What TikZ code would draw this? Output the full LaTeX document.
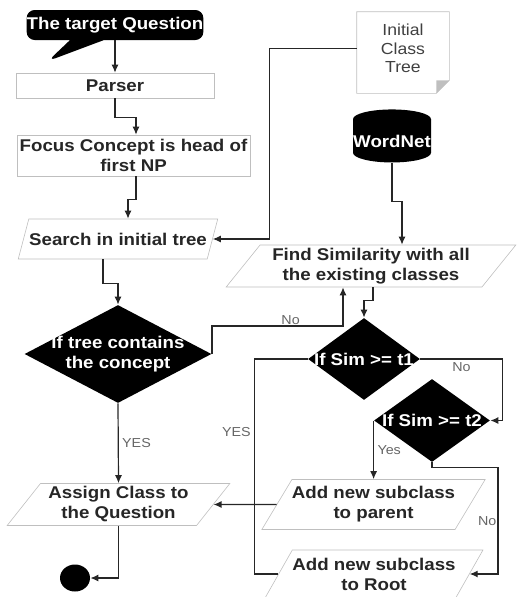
\documentclass[tikz,border=0pt]{standalone}
\usepackage{fontspec}
\setmainfont[FakeStretch=1.1]{Liberation Sans}
\usetikzlibrary{shapes.geometric,shapes.callouts,arrows.meta}

\begin{document}
\begin{tikzpicture}[x=1pt, y=-1pt, thick, >={Latex[length=8pt,width=7pt]},
    box/.style={draw=black!25, line width=0.6pt, font=\fontsize{17}{20}\selectfont\bfseries, text=black!85, align=center, inner sep=0pt},
    io/.style={box, trapezium, trapezium left angle=50, trapezium right angle=130, trapezium stretches=true},
    dec/.style={diamond, fill=black, inner sep=0pt},
    dtext/.style={text=white, font=\fontsize{17}{20}\selectfont\bfseries, align=center},
    lab/.style={text=black!60, font=\fontsize{13}{15}\selectfont},
    line/.style={draw=black!85, line width=1.2pt}]

    \useasboundingbox (0,0) rectangle (517,597);

    \node[rectangle callout, fill=black, rounded corners=8pt, callout absolute pointer={(48,61)}, callout pointer width=34pt, minimum width=176pt, minimum height=30pt, inner sep=0pt, text=white, font=\fontsize{17}{20}\selectfont\bfseries] at (115,25) (Q) {The target Question};
    \node[box, minimum width=198pt, minimum height=25pt] at (115,85.5) (P) {Parser};
    \node[box, minimum width=233pt, minimum height=41pt] at (133.5,155.5) (F) {Focus Concept is head of\\first NP};
    \node[io, minimum width=200pt, minimum height=40pt] at (118,239) (S) {Search in initial tree};
    \node[box, draw=none, text=black!75, font=\fontsize{16}{18.5}\selectfont, minimum width=92pt, minimum height=73pt] at (403,48.5) (T) {Initial\\Class\\Tree};
    \node[cylinder, shape border rotate=90, aspect=0.25, fill=black, minimum width=78pt, minimum height=53pt, inner sep=0pt, text=white, font=\fontsize{17}{20}\selectfont\bfseries] at (392,141) (W) {WordNet};
    \node[io, minimum width=290pt, minimum height=42pt] at (371,266) (FS) {Find Similarity with all\\the existing classes};

    \node[dec, minimum width=187pt, minimum height=98pt, label={[dtext]center:If tree contains\\the concept}] at (118,354) (C) {};
    \node[dec, minimum width=112pt, minimum height=82pt, label={[dtext]center:If Sim >= t1}] at (364,359) (D1) {};
    \node[dec, minimum width=116pt, minimum height=83pt, label={[dtext]center:If Sim >= t2}] at (432,420.5) (D2) {};

    \node[io, minimum width=223pt, minimum height=42pt] at (118.5,504.5) (A) {Assign Class to\\the Question};
    \node[io, minimum width=217pt, minimum height=50pt] at (373.5,504.5) (AP) {Add new subclass\\to parent};
    \node[io, minimum width=218pt, minimum height=48pt] at (374,574) (AR) {Add new subclass\\to Root};
    \node[ellipse, fill=black, minimum width=30pt, minimum height=27pt] at (75,578) (E) {};

    % folded corner of the tree file
    \draw[draw=black!25, line width=0.6pt] (T.north west) -- (T.north east) -- ([yshift=5pt]T.south east) -- ([xshift=-13pt, yshift=-8pt]T.south east) -- ([yshift=-8pt]T.south west) -- cycle;
    \fill[black!25] ([yshift=5pt]T.south east) -- ([xshift=-13pt, yshift=-8pt]T.south east) -- ([xshift=-13pt, yshift=5pt]T.south east) -- cycle;

    \draw[line, ->] (Q.south) -- (P.north);
    \draw[line, ->] (P.south) -- ++(0,19) -| ([xshift=2.5pt]F.north);
    \draw[line, ->] ([xshift=2.5pt]F.south) -- ++(0,23) -| ([xshift=10pt]S.north);
    \draw[line, ->] (T.west) -- ++(-87,0) |- (S.east);
    \draw[line, ->] (W.south) -- ++(0,39) -| ([xshift=31pt]FS.north);
    \draw[line, ->] ([xshift=-15pt]S.south) -- ++(0,24) -| (C.north);
    \draw[line, ->] (C.east) -- ++(0,-28) -| node[pos=0.3, above, inner sep=1pt, lab] {No} ([xshift=-28pt]FS.south);
    \draw[line, ->] ([xshift=2pt]FS.south) -- ++(0,13) -| (D1.north);
    \draw[line, ->] (C.south) -- node[right, lab] {YES} (A.north);
    \draw[line, ->] (A.south) |- (E.east);
    \draw[line, ->] (D1.east) -- node[below, lab] {No} ++(82,0) |- (D2.east);
    \draw[line, ->] (D2.west) -- node[right, lab] {Yes} (D2.west |- AP.north);
    \draw[line, ->] (D2.south) -- ++(0,5) -- ++(66,0) |- node[pos=0.25, left, inner sep=1pt, lab] {No} (AR.east);
    \draw[line, ->] (AP.west) -- (A.east);
    \draw[line] (D1.west) -- ++(-53,0) |- node[pos=0.17, left, lab] {YES} (AR.west);

\end{tikzpicture}
\end{document}
